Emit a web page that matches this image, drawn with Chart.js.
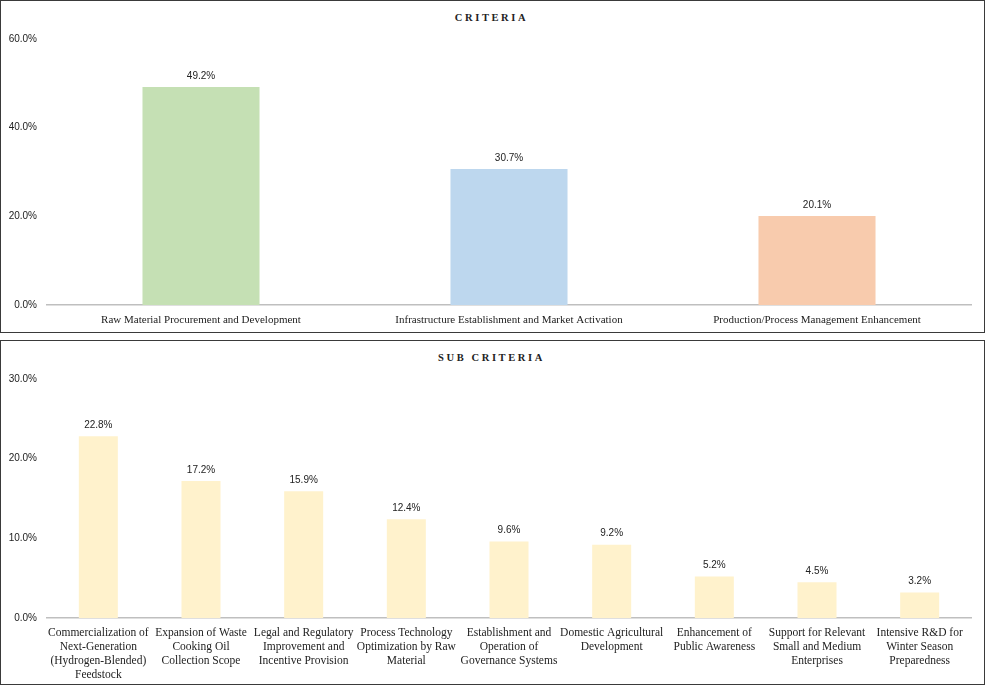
<!DOCTYPE html>
<html>
<head>
<meta charset="utf-8">
<script src="https://cdn.jsdelivr.net/npm/chart.js@4.4.0/dist/chart.umd.min.js"></script>
<style>
  html, body { margin: 0; padding: 0; background: #fff; }
  body { width: 985px; height: 685px; position: relative; overflow: hidden; }
  .panel { position: absolute; left: 0; width: 983px; border: 1px solid #3a3a3a; background: #fff; }
  #panel-top { top: 0; height: 331px; }
  #panel-bottom { top: 340px; height: 343px; }
  .title {
    position: absolute; left: 0; right: 0; top: 11px; text-align: center;
    font-family: "Liberation Serif", "Times New Roman", serif; font-weight: bold;
    font-size: 10.5px; letter-spacing: 2.6px; padding-right: 2px; color: #222;
  }
  .panel canvas { position: absolute; left: 0; top: 0; }
</style>
</head>
<body>
<div class="panel" id="panel-top">
  <div class="title">CRITERIA</div>
  <canvas id="criteria-chart" width="983" height="331"></canvas>
</div>
<div class="panel" id="panel-bottom">
  <div class="title">SUB CRITERIA</div>
  <canvas id="sub-chart" width="983" height="343"></canvas>
</div>
<script>
// Datos del gráfico superior
const criteriaLabels = [
  "Raw Material Procurement and Development",
  "Infrastructure Establishment and Market Activation",
  "Production/Process Management Enhancement",
];
const criteriaValues = [49.2, 30.7, 20.1];
const criteriaColors = ["#c5e0b4", "#bdd7ee", "#f8cbad"];
const criteriaTicks = [0, 20, 40, 60];

// Datos del gráfico inferior
const subLabels = [
  ["Commercialization of", "Next-Generation", "(Hydrogen-Blended)", "Feedstock"],
  ["Expansion of Waste", "Cooking Oil", "Collection Scope"],
  ["Legal and Regulatory", "Improvement and", "Incentive Provision"],
  ["Process Technology", "Optimization by Raw", "Material"],
  ["Establishment and", "Operation of", "Governance Systems"],
  ["Domestic Agricultural", "Development"],
  ["Enhancement of", "Public Awareness"],
  ["Support for Relevant", "Small and Medium", "Enterprises"],
  ["Intensive R&D for", "Winter Season", "Preparedness"],
];
const subValues = [22.8, 17.2, 15.9, 12.4, 9.6, 9.2, 5.2, 4.5, 3.2];
const subColor = "#fff2cc";
const subTicks = [0, 10, 20, 30];

const sansFont = '"Liberation Sans", Arial, sans-serif';
const serifFont = '"Liberation Serif", "Times New Roman", serif';

// Etiquetas de valor encima de cada barra
const valueLabels = {
  id: "valueLabels",
  afterDatasetsDraw(chart) {
    const ctx = chart.ctx;
    const meta = chart.getDatasetMeta(0);
    const values = chart.data.datasets[0].data;
    ctx.save();
    ctx.font = `10px ${sansFont}`;
    ctx.fillStyle = "#222";
    ctx.textAlign = "center";
    ctx.textBaseline = "middle";
    meta.data.forEach((bar, i) => {
      ctx.fillText(values[i].toFixed(1) + "%", bar.x, bar.y - 11);
    });
    ctx.restore();
  },
};

const buildChart = (canvasId, labels, values, colors, ticks, xFontSize, xHeight) => {
  const max = ticks[ticks.length - 1];
  return new Chart(document.getElementById(canvasId), {
    type: "bar",
    plugins: [valueLabels],
    data: {
      labels: labels,
      datasets: [
        {
          data: values,
          backgroundColor: colors,
          borderWidth: 0,
          categoryPercentage: 1,
          barPercentage: 0.38,
        },
      ],
    },
    options: {
      responsive: false,
      animation: false,
      devicePixelRatio: 1,
      layout: { padding: { top: 38, right: 13, left: 0, bottom: 0 } },
      plugins: {
        legend: { display: false },
        tooltip: { enabled: false },
        title: { display: false },
      },
      scales: {
        x: {
          grid: { display: false, drawTicks: false },
          border: { display: true, color: "#bfbfbf", width: 1.5 },
          ticks: {
            color: "#222",
            font: { family: serifFont, size: xFontSize, lineHeight: 1.22 },
            padding: 8,
            autoSkip: false,
            maxRotation: 0,
            minRotation: 0,
          },
          afterFit: (s) => { s.height = xHeight; },
        },
        y: {
          min: 0,
          max: max,
          afterBuildTicks: (s) => { s.ticks = ticks.map((v) => ({ value: v })); },
          grid: { display: false, drawTicks: false },
          border: { display: false },
          ticks: {
            color: "#222",
            font: { family: sansFont, size: 10 },
            padding: 10,
            callback: (v) => v.toFixed(1) + "%",
          },
          afterFit: (s) => { s.width = 46; },
        },
      },
    },
  });
};

buildChart("criteria-chart", criteriaLabels, criteriaValues, criteriaColors, criteriaTicks, 11, 27);
buildChart("sub-chart", subLabels, subValues, subValues.map(() => subColor), subTicks, 11.5, 66);
</script>
</body>
</html>
